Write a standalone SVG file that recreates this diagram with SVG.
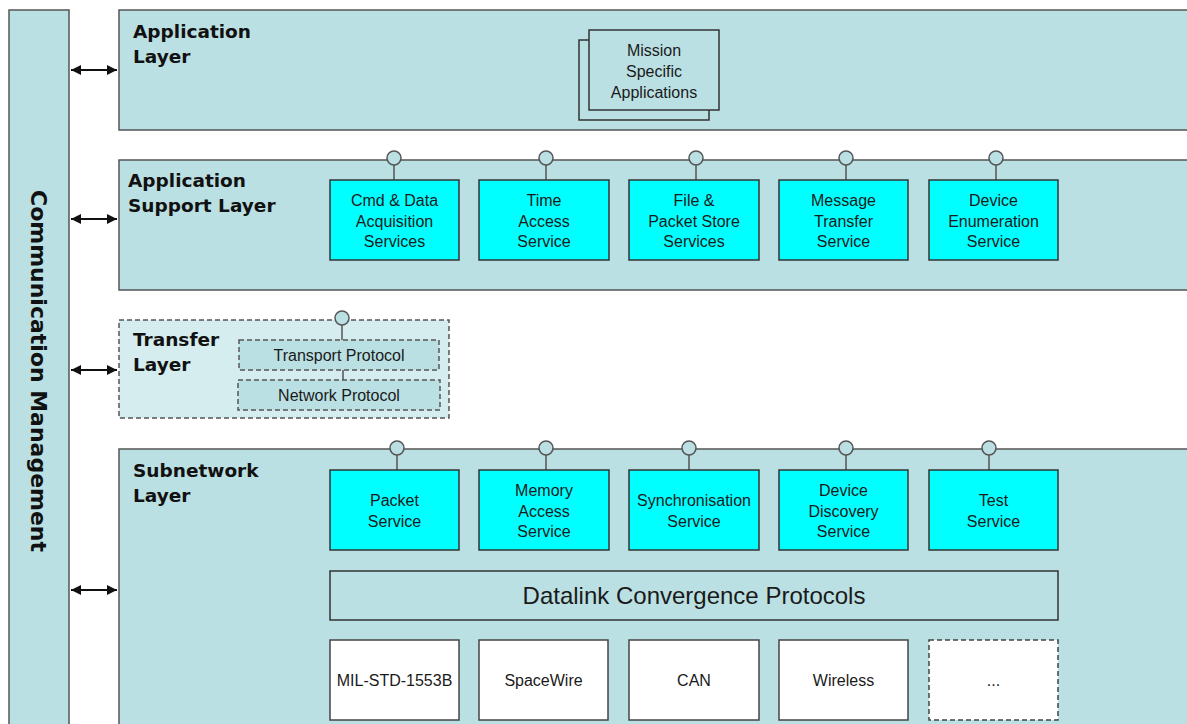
<svg xmlns="http://www.w3.org/2000/svg" width="1187" height="724" viewBox="0 0 1187 724">
<style>
.layer{fill:#bbe0e3;stroke:#555;stroke-width:1.5}
.dash{stroke-dasharray:5,3}
.svc{fill:#00ffff;stroke:#333;stroke-width:1.5}
.phy{fill:#ffffff;stroke:#444;stroke-width:1.5}
.lbl{font-family:"DejaVu Sans",Verdana,sans-serif;font-weight:bold;font-size:18.5px;fill:#111}
.t{font-family:"Liberation Sans",Arial,sans-serif;font-size:16px;fill:#1a1a1a;text-anchor:middle}
.lol{fill:#bbe0e3;stroke:#555;stroke-width:1.5}
.stem{stroke:#555;stroke-width:1.5}
.arr{stroke:#111;stroke-width:2;marker-start:url(#ah);marker-end:url(#ah)}
</style>
<defs>
<marker id="ah" viewBox="0 0 10 10" refX="10" refY="5" markerWidth="5" markerHeight="5" orient="auto-start-reverse"><path d="M0,0 L10,5 L0,10 Z" fill="#111"/></marker>
</defs>

<g id="comm-mgmt">
<rect x="9" y="10" width="60" height="730" class="layer"/>
<text transform="translate(38,371) rotate(90)" text-anchor="middle" dominant-baseline="central" class="lbl" style="font-size:21px" textLength="362" lengthAdjust="spacingAndGlyphs">Communication Management</text>
</g>

<g id="connectors">
<line x1="71" y1="70" x2="117" y2="70" class="arr"/>
<line x1="71" y1="219" x2="117" y2="219" class="arr"/>
<line x1="71" y1="370" x2="117" y2="370" class="arr"/>
<line x1="71" y1="590" x2="117" y2="590" class="arr"/>
</g>

<g id="application-layer">
<rect x="119" y="10" width="1080" height="120" class="layer"/>
<text class="lbl" x="133" y="38">Application</text>
<text class="lbl" x="133" y="63">Layer</text>
</g>
<g id="mission-apps">
<rect x="579" y="40" width="130" height="80" class="layer" style="stroke:#333"/>
<rect x="589" y="30" width="130" height="80" class="layer" style="stroke:#333"/>
<text class="t" x="654" y="56">Mission</text>
<text class="t" x="654" y="77">Specific</text>
<text class="t" x="654" y="98">Applications</text>
</g>

<g id="app-support-layer">
<rect x="119" y="160" width="1080" height="130" class="layer"/>
<text class="lbl" x="128" y="187">Application</text>
<text class="lbl" x="128" y="212">Support Layer</text>
</g>

<g id="cmd-data">
<line x1="394" y1="165" x2="394" y2="180" class="stem"/><circle cx="394" cy="158" r="7" class="lol"/>
<rect x="330" y="180" width="129" height="80" class="svc"/>
<text class="t" x="394.5" y="206">Cmd &amp; Data</text><text class="t" x="394.5" y="227">Acquisition</text><text class="t" x="394.5" y="247">Services</text>
</g>
<g id="time-access">
<line x1="546" y1="165" x2="546" y2="180" class="stem"/><circle cx="546" cy="158" r="7" class="lol"/>
<rect x="479" y="180" width="130" height="80" class="svc"/>
<text class="t" x="544" y="206">Time</text><text class="t" x="544" y="227">Access</text><text class="t" x="544" y="247">Service</text>
</g>
<g id="file-packet-store">
<line x1="696" y1="165" x2="696" y2="180" class="stem"/><circle cx="696" cy="158" r="7" class="lol"/>
<rect x="629" y="180" width="130" height="80" class="svc"/>
<text class="t" x="694" y="206">File &amp;</text><text class="t" x="694" y="227">Packet Store</text><text class="t" x="694" y="247">Services</text>
</g>
<g id="message-transfer">
<line x1="846" y1="165" x2="846" y2="180" class="stem"/><circle cx="846" cy="158" r="7" class="lol"/>
<rect x="779" y="180" width="129" height="80" class="svc"/>
<text class="t" x="843.5" y="206">Message</text><text class="t" x="843.5" y="227">Transfer</text><text class="t" x="843.5" y="247">Service</text>
</g>
<g id="device-enumeration">
<line x1="996" y1="165" x2="996" y2="180" class="stem"/><circle cx="996" cy="158" r="7" class="lol"/>
<rect x="929" y="180" width="129" height="80" class="svc"/>
<text class="t" x="993.5" y="206">Device</text><text class="t" x="993.5" y="227">Enumeration</text><text class="t" x="993.5" y="247">Service</text>
</g>

<g id="transfer-layer">
<rect x="119" y="320" width="330" height="98" class="layer dash" style="fill:#d5edef"/>
<text class="lbl" x="133" y="346">Transfer</text>
<text class="lbl" x="133" y="371">Layer</text>
<line x1="342" y1="325" x2="342" y2="340" class="stem"/>
<line x1="343" y1="370" x2="343" y2="380" class="stem"/>
<circle cx="342" cy="318" r="7" class="lol"/>
</g>
<g id="transport-protocol">
<rect x="239" y="340" width="200" height="30" class="layer dash"/>
<text class="t" x="339" y="361">Transport Protocol</text>
</g>
<g id="network-protocol">
<rect x="238" y="380" width="202" height="30" class="layer dash"/>
<text class="t" x="339" y="401">Network Protocol</text>
</g>

<g id="subnetwork-layer">
<rect x="119" y="449" width="1080" height="290" class="layer"/>
<text class="lbl" x="133" y="477">Subnetwork</text>
<text class="lbl" x="133" y="502">Layer</text>
</g>

<g id="packet-service">
<line x1="397" y1="455" x2="397" y2="470" class="stem"/><circle cx="397" cy="448" r="7" class="lol"/>
<rect x="330" y="470" width="129" height="80" class="svc"/>
<text class="t" x="394.5" y="506">Packet</text><text class="t" x="394.5" y="527">Service</text>
</g>
<g id="memory-access">
<line x1="546" y1="455" x2="546" y2="470" class="stem"/><circle cx="546" cy="448" r="7" class="lol"/>
<rect x="479" y="470" width="130" height="80" class="svc"/>
<text class="t" x="544" y="496">Memory</text><text class="t" x="544" y="517">Access</text><text class="t" x="544" y="537">Service</text>
</g>
<g id="synchronisation">
<line x1="689" y1="455" x2="689" y2="470" class="stem"/><circle cx="689" cy="448" r="7" class="lol"/>
<rect x="629" y="470" width="130" height="80" class="svc"/>
<text class="t" x="694" y="506">Synchronisation</text><text class="t" x="694" y="527">Service</text>
</g>
<g id="device-discovery">
<line x1="846" y1="455" x2="846" y2="470" class="stem"/><circle cx="846" cy="448" r="7" class="lol"/>
<rect x="779" y="470" width="129" height="80" class="svc"/>
<text class="t" x="843.5" y="496">Device</text><text class="t" x="843.5" y="517">Discovery</text><text class="t" x="843.5" y="537">Service</text>
</g>
<g id="test-service">
<line x1="989" y1="455" x2="989" y2="470" class="stem"/><circle cx="989" cy="448" r="7" class="lol"/>
<rect x="929" y="470" width="129" height="80" class="svc"/>
<text class="t" x="993.5" y="506">Test</text><text class="t" x="993.5" y="527">Service</text>
</g>

<g id="datalink-convergence">
<rect x="330" y="571" width="728" height="49" class="layer" style="stroke:#333"/>
<text class="t" x="694" y="604" style="font-size:24px">Datalink Convergence Protocols</text>
</g>

<g id="mil-std-1553b">
<rect x="330" y="640" width="129" height="80" class="phy"/>
<text class="t" x="394.5" y="686">MIL-STD-1553B</text>
</g>
<g id="spacewire">
<rect x="479" y="640" width="129" height="80" class="phy"/>
<text class="t" x="543.5" y="686">SpaceWire</text>
</g>
<g id="can">
<rect x="629" y="640" width="130" height="80" class="phy"/>
<text class="t" x="694" y="686">CAN</text>
</g>
<g id="wireless">
<rect x="779" y="640" width="129" height="80" class="phy"/>
<text class="t" x="843.5" y="686">Wireless</text>
</g>
<g id="more">
<rect x="929" y="640" width="129" height="80" class="phy dash"/>
<text class="t" x="993.5" y="686">...</text>
</g>
</svg>
